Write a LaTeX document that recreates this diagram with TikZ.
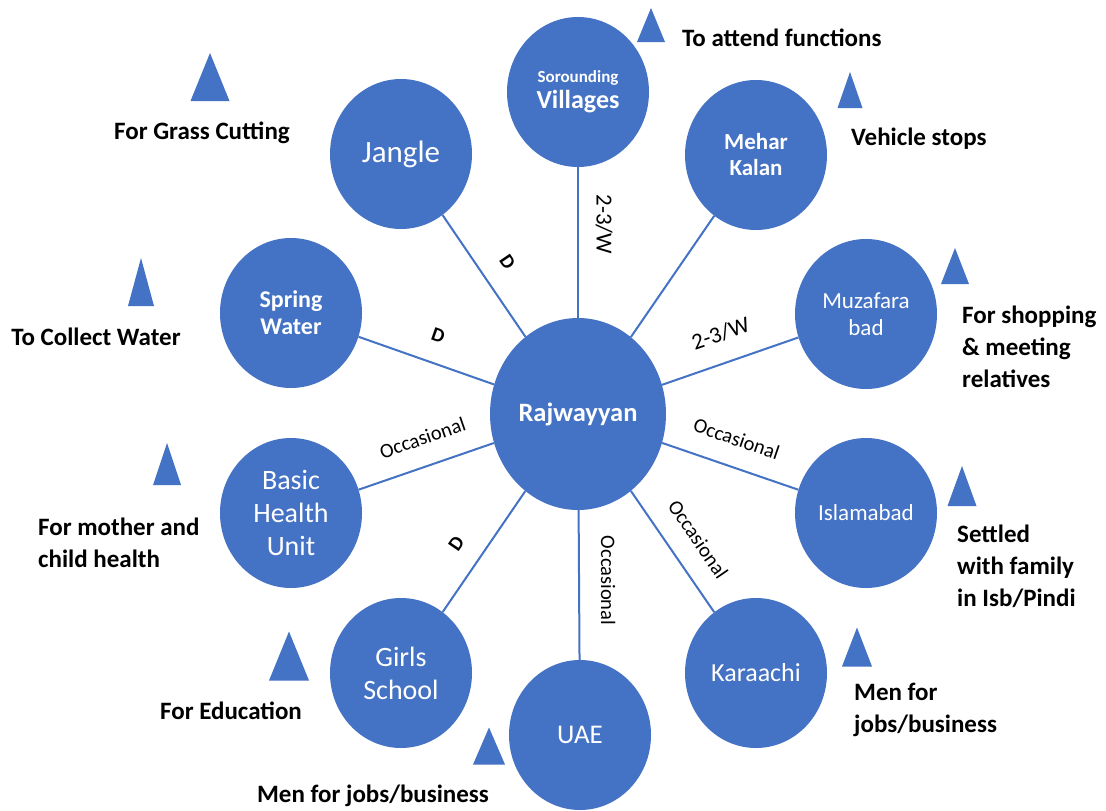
\documentclass[tikz,border=0pt]{standalone}
\usepackage{fontspec}
\setmainfont{Carlito}
\usetikzlibrary{shapes.geometric}
\definecolor{placeblue}{HTML}{4472C4}
\newcommand{\landmark}[4]{\fill[placeblue] (#1-#3/2,#2+#4/2) -- (#1+#3/2,#2+#4/2) -- (#1,#2-#4/2) -- cycle;}

\begin{document}
\begin{tikzpicture}[x=1pt,y=-1pt,
    place/.style={ellipse,fill=placeblue,text=white,minimum width=142pt,minimum height=150pt,
                  inner sep=0pt,align=center,font=\fontsize{24}{27}\selectfont},
    hub/.style={place,minimum width=176pt,minimum height=192pt,font=\bfseries\fontsize{26.5}{28}\selectfont},
    note/.style={align=left,inner sep=0pt,font=\bfseries\fontsize{25}{32}\selectfont},
    link/.style={draw=placeblue,line width=2pt},
    freq/.style={inner sep=0pt,font=\fontsize{20.5}{20}\selectfont},
    dtag/.style={freq,font=\bfseries\fontsize{20}{20}\selectfont},
    wtag/.style={freq,font=\fontsize{23}{23}\selectfont},
    along/.style={sloped,above=20pt},
    vert/.style={xshift=#1,rotate=-90}]
  \fill[white] (0,0) rectangle (1106,811);
  \useasboundingbox (0,0) rectangle (1106,811);

  %places%
  \node[hub] (raj) at (578,414) {Rajwayyan};
  \node[place,font=\bfseries\fontsize{26}{26}\selectfont] (vil) at (578,92) {{\fontsize{17}{17}\selectfont Sorounding}\\Villages};
  \node[place,font=\bfseries\fontsize{23}{26}\selectfont] (mehar) at (756,155) {Mehar\\Kalan};
  \node[place,font=\fontsize{31}{34}\selectfont] (jangle) at (401,154) {Jangle};
  \node[place,font=\bfseries\fontsize{24}{27}\selectfont] (spring) at (291,313) {Spring\\Water};
  \node[place,font=\fontsize{23}{27}\selectfont] (muz) at (866,314) {Muzafara\\bad};
  \node[place,font=\fontsize{28}{33}\selectfont] (bhu) at (291,513) {Basic\\Health\\Unit};
  \node[place,font=\fontsize{23}{27}\selectfont] (isb) at (866,513) {Islamabad};
  \node[place,font=\fontsize{28}{33}\selectfont] (girls) at (401,673) {Girls\\School};
  \node[place,font=\fontsize{26}{27}\selectfont] (khi) at (756,673) {Karaachi};
  \node[place,font=\fontsize{27}{30}\selectfont] (uae) at (580,735) {UAE};

  \path[link]
    (raj) edge node[wtag,vert=26pt,pos=.62] {2-3/W} (vil)
    (raj) edge (mehar)
    (raj) edge node[dtag,along,pos=.49] {D} (jangle)
    (raj) edge node[dtag,along,pos=.48] {D} (spring)
    (raj) edge node[wtag,along] {2-3/W} (muz)
    (raj) edge node[freq,along,pos=.46] {Occasional} (bhu)
    (raj) edge node[freq,along,pos=.48] {Occasional} (isb)
    (raj) edge node[dtag,along,pos=.56] {D} (girls)
    (raj) edge node[freq,vert=29pt,pos=.47] {Occasional} (uae)
    (raj) edge node[freq,along,pos=.53] {Occasional} (khi);

  %marks%
  \landmark{651}{25}{28}{34}
  \landmark{850}{90}{25}{36}
  \landmark{210}{77}{39}{48}
  \landmark{141}{282}{26}{48}
  \landmark{955}{266}{28}{36}
  \landmark{167}{464}{28}{42}
  \landmark{962}{486}{29}{40}
  \landmark{289}{656}{40}{49}
  \landmark{489}{746}{32}{37}
  \landmark{857}{647}{30}{39}

  \node[note,anchor=west] (n-vil) at (682,38) {To attend functions};
  \node[note,anchor=west] (n-mehar) at (851,139) {Vehicle stops};
  \node[note] (n-jangle) at (202,133) {For Grass Cutting};
  \node[note] (n-spring) at (96,337) {To Collect Water};
  \node[note,anchor=west] (n-muz) at (962,347) {For shopping\\\& meeting\\relatives};
  \node[note,anchor=west] (n-bhu) at (38,543) {For mother and\\child health};
  \node[note,anchor=west] (n-isb) at (957,566) {Settled\\with family\\in Isb/Pindi};
  \node[note] (n-girls) at (231,711) {For Education};
  \node[note,anchor=west] (n-khi) at (854,710) {Men for\\jobs/business};
  \node[note] (n-uae) at (373,796) {Men for jobs/business};
\end{tikzpicture}
\end{document}
